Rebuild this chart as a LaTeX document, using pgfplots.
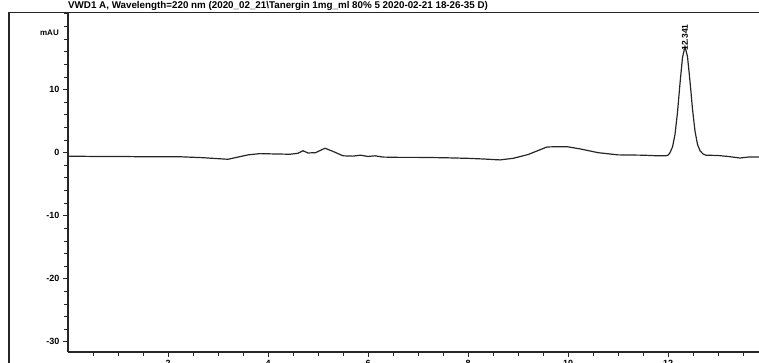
\documentclass[border=0pt]{standalone}
\usepackage{pgfplots}
\pgfplotsset{compat=1.18}
\usepackage{fontspec}
\setmainfont{Liberation Sans}
\begin{document}
\begin{tikzpicture}[x=1pt,y=1pt]
\useasboundingbox (0,0) rectangle (759,363);
\begin{axis}[
  at={(68pt,11pt)}, anchor=south west,
  scale only axis, width=691pt, height=340pt,
  xmin=0, xmax=13.82, ymin=-31.6, ymax=22.3,
  axis x line=bottom, axis y line=left,
  axis line style={-, line width=1.3pt, black!85},
  xtick={2,4,6,8,10,12,14},
  minor xtick={0.5,1,...,13.5},
  ytick={-30,-20,-10,0,10},
  minor ytick={-30,-28,...,22},
  tick align=outside,
  major tick length=5pt, minor tick length=4pt,
  every tick/.style={black!85, line width=0.9pt},
  tick label style={font=\fontsize{9}{10}\selectfont\bfseries},
  /pgf/number format/assume math mode=true,
  clip=false,
]
\addplot[black!85, line width=1.2pt] coordinates {
(0,-0.55) (0.5,-0.6) (1.0,-0.6) (1.5,-0.65) (2.0,-0.65) (2.24,-0.65)
(2.7,-0.8) (3.0,-0.95) (3.2,-1.05) (3.4,-0.7) (3.6,-0.35) (3.84,-0.15)
(4.1,-0.2) (4.44,-0.25) (4.6,-0.1) (4.7,0.3) (4.8,-0.05) (4.95,0.0)
(5.14,0.7) (5.3,0.2) (5.5,-0.5) (5.7,-0.55) (5.85,-0.4) (6.0,-0.6)
(6.14,-0.5) (6.3,-0.7) (6.64,-0.75) (7.0,-0.75) (7.5,-0.8) (8.0,-0.9)
(8.3,-1.0) (8.64,-1.15) (8.9,-0.9) (9.2,-0.3) (9.58,0.9) (9.8,0.95)
(9.98,0.95) (10.24,0.6) (10.6,0.0) (11.0,-0.35) (11.5,-0.4) (11.8,-0.5)
(11.95,-0.5) (12.0,-0.4) (12.04,0.0) (12.09,0.9) (12.14,2.9) (12.19,6.4)
(12.24,11.0) (12.29,15.1) (12.34,16.8) (12.39,15.2) (12.44,11.3)
(12.49,6.9) (12.54,3.4) (12.59,1.3) (12.64,0.3) (12.70,-0.2) (12.76,-0.4)
(13.0,-0.45) (13.2,-0.6) (13.44,-0.85) (13.6,-0.7) (13.82,-0.7)
};
\node[rotate=90, anchor=west, inner sep=1pt, font=\fontsize{8.5}{9}\selectfont\bfseries] at (axis cs:12.341,16.0) {12.341};
\end{axis}
\draw[black!85, line width=1.6pt] (8,350.5) -- (759,350.5);
\draw[black!85, line width=1.3pt] (9,0) -- (9,350.5);
\node[anchor=west, inner sep=0pt, font=\fontsize{9.8}{10}\selectfont\bfseries] at (68,357.5) {VWD1 A, Wavelength=220 nm (2020\_02\_21\textbackslash Tanergin 1mg\_ml 80\% 5 2020-02-21 18-26-35 D)};
\node[anchor=east, inner sep=0pt, font=\fontsize{8}{9}\selectfont\bfseries] at (59,330) {mAU};
\end{tikzpicture}
\end{document}
